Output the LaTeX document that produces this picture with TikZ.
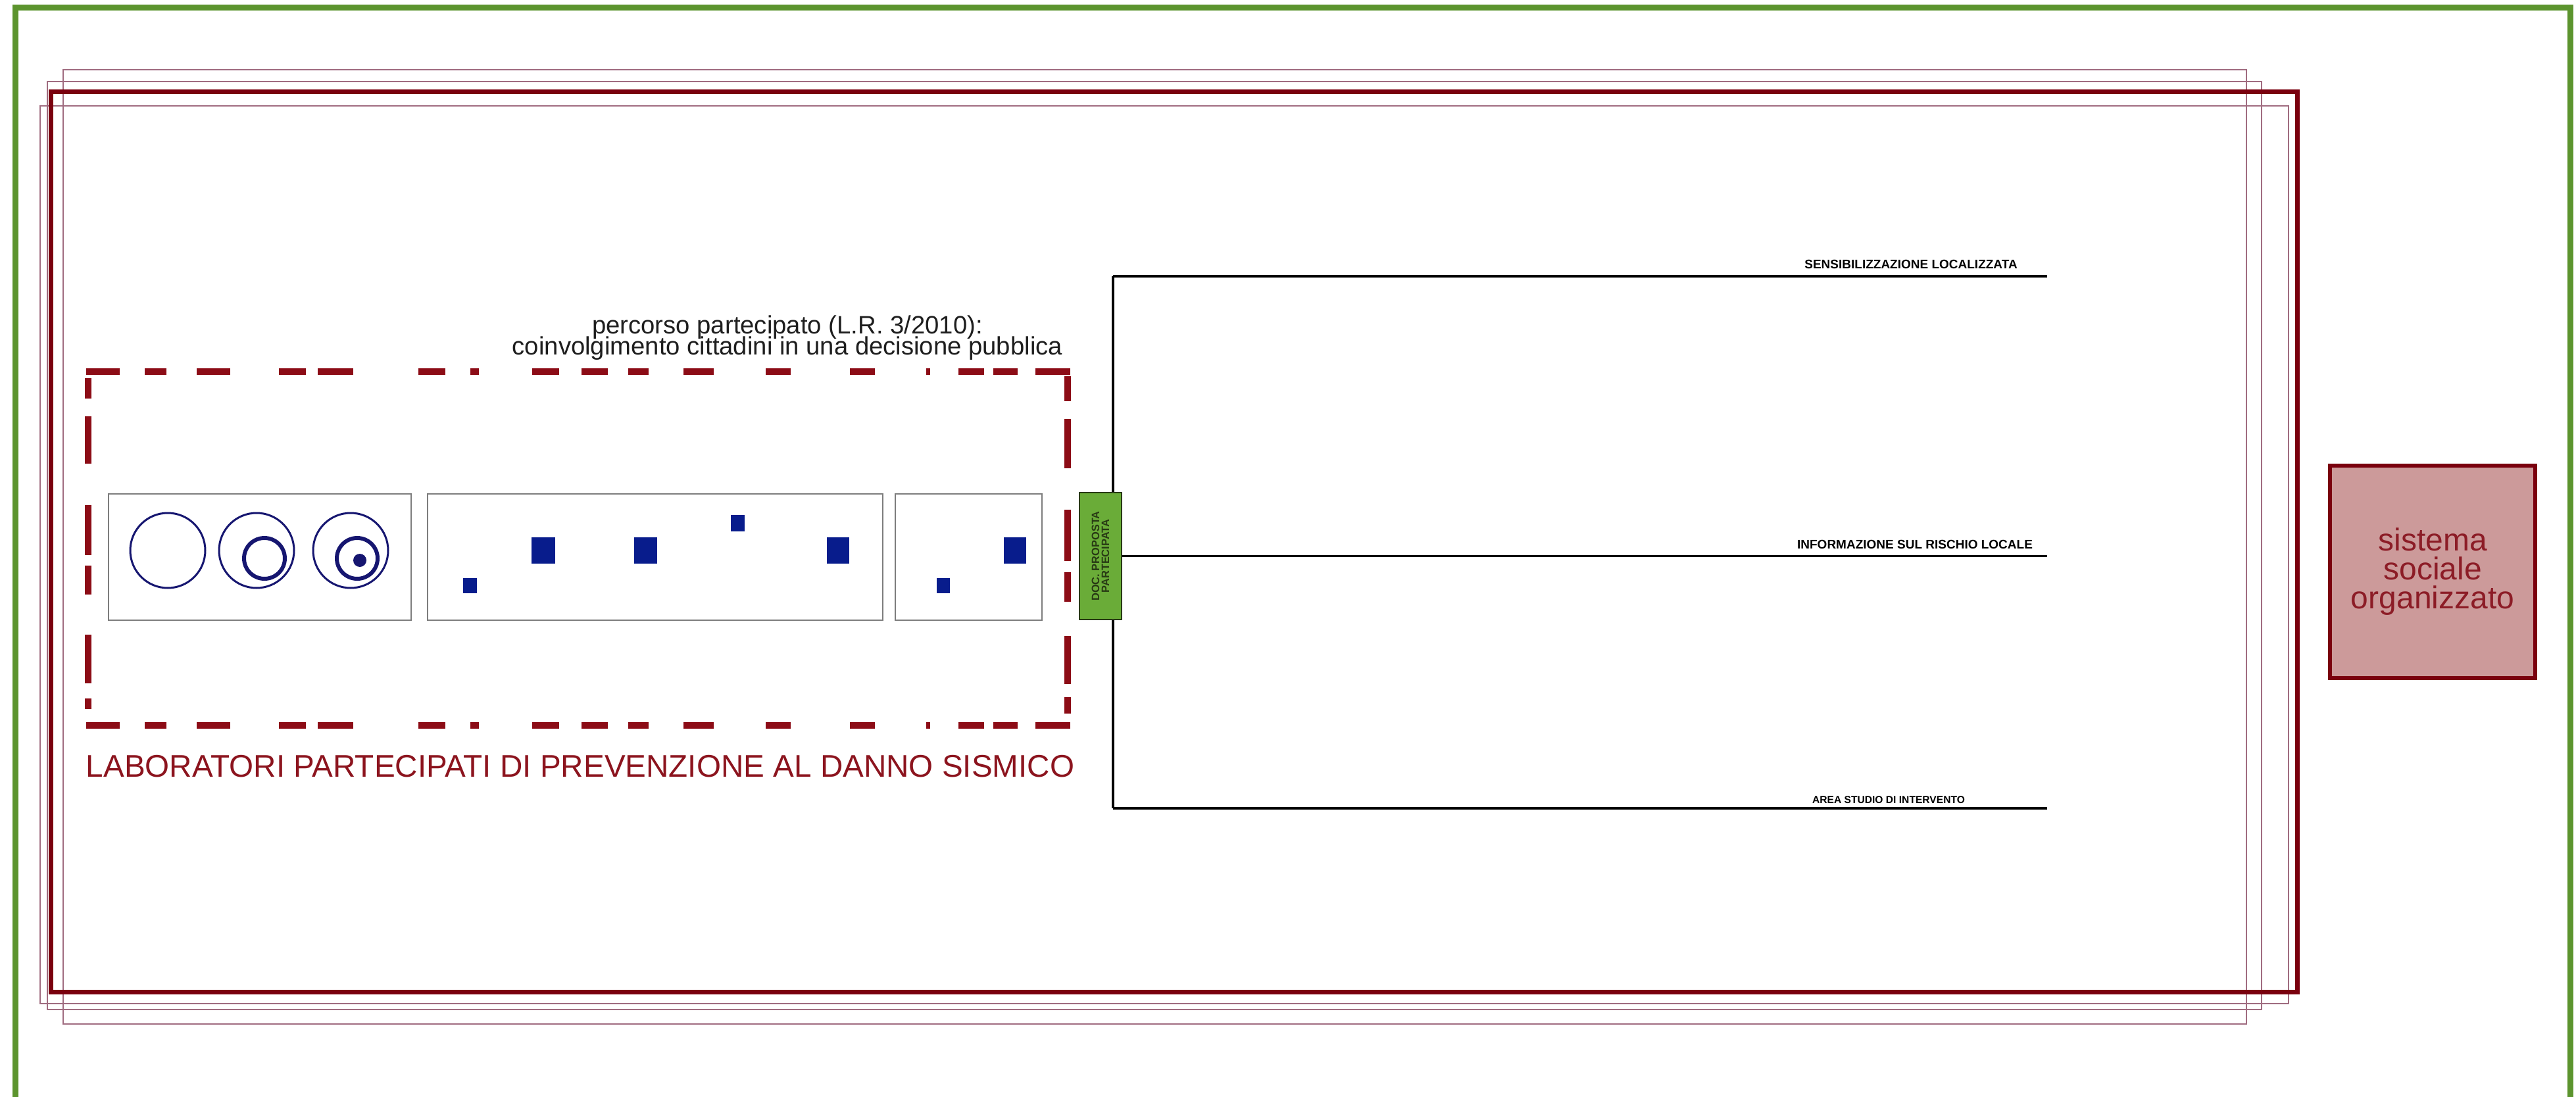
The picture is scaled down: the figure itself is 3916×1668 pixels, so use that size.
\documentclass[tikz,border=0pt]{standalone}
\usepackage{fontspec}
\setmainfont{Liberation Sans}
\definecolor{greenframe}{RGB}{92,148,46}
\definecolor{darkred}{RGB}{122,0,14}
\definecolor{mauve}{RGB}{160,108,128}
\definecolor{dashred}{RGB}{140,12,22}
\definecolor{panelgray}{RGB}{125,125,125}
\definecolor{navyfill}{RGB}{8,28,140}
\definecolor{navyline}{RGB}{22,22,112}
\definecolor{docfill}{RGB}{106,172,56}
\definecolor{docline}{RGB}{40,58,20}
\definecolor{sysfill}{RGB}{204,154,154}
\definecolor{systext}{RGB}{140,28,38}
\definecolor{labred}{RGB}{140,20,30}
\definecolor{darktext}{RGB}{30,30,30}
\tikzset{
  frame/.style={draw=greenframe, line width=2.25pt},
  redframe/.style={draw=darkred, line width=1.75pt},
  thinframe/.style={draw=mauve, line width=0.7pt},
  dashseg/.style={draw=dashred, line width=2.5pt},
  panel/.style={draw=panelgray, line width=0.6pt},
  sqr/.style={fill=navyfill, draw=none},
  ring/.style={draw=navyline, line width=0.75pt},
  thickring/.style={draw=navyline, line width=1.5pt},
  conn/.style={draw=black, line width=0.9pt},
  docbox/.style={draw=docline, fill=docfill, line width=0.5pt, minimum width=16pt, minimum height=48.25pt, inner sep=0},
  sysbox/.style={draw=darkred, fill=sysfill, line width=1.5pt, minimum width=78pt, minimum height=80.75pt, inner sep=0, align=center, text=systext, font=\fontsize{12pt}{11pt}\selectfont},
  lbl/.style={inner sep=0, anchor=base, font=\bfseries\fontsize{4.75pt}{5pt}\selectfont},
  lblsmall/.style={inner sep=0, anchor=base, font=\bfseries\fontsize{3.9pt}{4pt}\selectfont},
}
\begin{document}
\begin{tikzpicture}[x=0.25pt,y=-0.25pt]
\useasboundingbox[fill=white] (0,0) rectangle (3916,1668);
% outer frames
\draw[frame] (23,12) rectangle (3907,1672);
\draw[thinframe] (96,106) rectangle (3415,1557);
\draw[thinframe] (72,124) rectangle (3438,1535);
\draw[thinframe] (61,161) rectangle (3479,1526);
\draw[redframe] (77,140) rectangle (3492,1508);
% dashed enclosure
\foreach \a/\b in {131/182,220/253,299/350,424/465,483/537,636/677,715/728,809/850,884/924,955/986,1039/1085,1164/1202,1292/1330,1408/1414,1457/1496,1510/1547,1574/1627}{
  \draw[dashseg] (\a,565) -- (\b,565);
  \draw[dashseg] (\a,1103) -- (\b,1103);
}
\foreach \a/\b in {575/606,633/705,768/844,860/904,965/1039,1062/1078}{
  \draw[dashseg] (134,\a) -- (134,\b);
}
\foreach \a/\b in {572/610,637/712,775/853,870/915,967/1040,1060/1085}{
  \draw[dashseg] (1623,\a) -- (1623,\b);
}
% panels
\draw[panel] (165,751) rectangle (625,943);
\draw[panel] (650,751) rectangle (1342,943);
\draw[panel] (1361,751) rectangle (1584,943);
% circles
\draw[ring] (255,837) circle[radius=57];
\draw[ring] (390,837) circle[radius=57];
\draw[thickring] (402,849) circle[radius=31];
\draw[ring] (533,837) circle[radius=57];
\draw[thickring] (543,849) circle[radius=31];
\fill[navyline] (547,852) circle[radius=10];
% squares
\fill[sqr] (704,879) rectangle (725,902);
\fill[sqr] (808,817) rectangle (844,857);
\fill[sqr] (964,817) rectangle (999,857);
\fill[sqr] (1111,783) rectangle (1132,808);
\fill[sqr] (1257,817) rectangle (1291,857);
\fill[sqr] (1424,879) rectangle (1444,902);
\fill[sqr] (1526,817) rectangle (1560,857);
% texts
\node[inner sep=0, anchor=base, text=darktext, font=\fontsize{9.57pt}{10pt}\selectfont] (perc1) at (1197,508) {percorso partecipato (L.R. 3/2010):};
\node[inner sep=0, anchor=base, text=darktext, font=\fontsize{9.57pt}{10pt}\selectfont] (perc2) at (1197,540) {coinvolgimento cittadini in una decisione pubblica};
\node[inner sep=0, anchor=base west, text=labred, font=\fontsize{11.9pt}{12pt}\selectfont] (lab) at (130,1181) {LABORATORI PARTECIPATI DI PREVENZIONE AL DANNO SISMICO};
% connectors
\coordinate (v1) at (1692,420);
\coordinate (v3) at (1692,1229);
\coordinate (e1) at (3112,420);
\coordinate (e2) at (3112,845.5);
\coordinate (e3) at (3112,1229);
\draw[conn] (v1) -- (v3);
\draw[conn] (v1) -- (e1);
\draw[conn] (v3) -- (e3);
\node[docbox] (doc) at (1673,845.5) {};
\node[rotate=90, inner sep=0, align=center, text=docline, font=\bfseries\fontsize{4.1pt}{3.75pt}\selectfont] (doctext) at (doc.center) {DOC. PROPOSTA\\PARTECIPATA};
\draw[conn] (doc.east) -- (e2);
\node[lbl] (l1) at (2905,409) {SENSIBILIZZAZIONE LOCALIZZATA};
\node[lbl] (l2) at (2911,834) {INFORMAZIONE SUL RISCHIO LOCALE};
\node[lblsmall] (l3) at (2871,1221) {AREA STUDIO DI INTERVENTO};
% social system box
\node[sysbox] (sys) at (3698,869.5) {sistema\\sociale\\organizzato};
\end{tikzpicture}
\end{document}
